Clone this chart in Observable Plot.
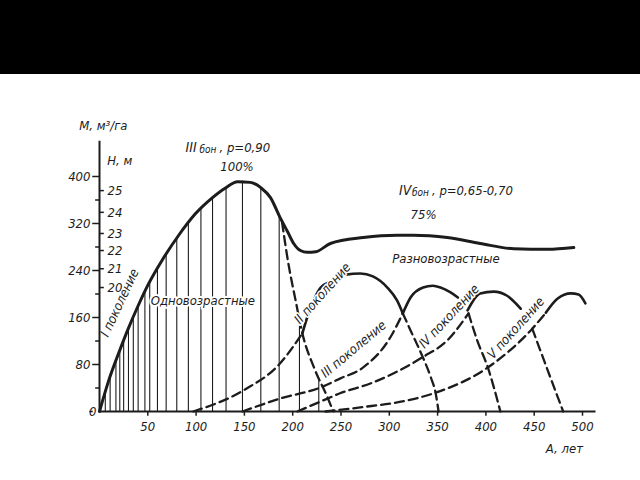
<!DOCTYPE html>
<html>
<head>
<meta charset="utf-8">
<script src="https://cdn.jsdelivr.net/npm/d3@7"></script>
<script src="https://cdn.jsdelivr.net/npm/@observablehq/plot@0.6"></script>
<style>
  html, body { margin: 0; padding: 0; background: #ffffff; }
  #band { height: 74px; background: #000; }
  #chart svg { display: block; background: #ffffff; }
</style>
</head>
<body>
<div id="band"></div>
<div id="chart"></div>
<script>
// ---- data (age A, years; stock M, m3/ha) ----
const xTicks = [50, 100, 150, 200, 250, 300, 350, 400, 450, 500];
const mTicks = [80, 160, 240, 320, 400];
const mMinor = [40, 120, 200, 280, 360];
const hLabels = ["20", "21", "22", "23", "24", "25"];
const hAtM = [211, 243, 274, 303, 339, 376];

// one-age stand (I generation) and uneven-aged continuation
const mainAge = [0, 9, 20, 30, 40, 51, 65, 82, 99, 117, 130, 143, 156, 167, 177, 187, 195, 201, 208, 215, 224, 239, 273, 308, 325, 360, 394, 429, 464, 491];
const mainVol = [0, 50, 100, 142, 180, 218, 258, 300, 336, 364, 380, 391, 390, 381, 364, 330, 305, 286, 274, 271, 272, 286, 296, 300, 300, 296, 286, 277, 276, 279];
const g1DescAge = [189, 195, 203, 210, 222, 236, 242];
const g1DescVol = [322, 257, 189, 133, 75, 24, 0];

const g2RiseAge = [97, 149, 187, 210];
const g2RiseVol = [0, 36, 82, 133];
const g2SolidAge = [210, 215, 229, 239, 255, 270, 283, 298, 308, 314];
const g2SolidVol = [133, 160, 211, 221, 233, 235, 230, 211, 189, 167];
const g2DescAge = [314, 322, 334, 343, 348, 351];
const g2DescVol = [167, 138, 95, 58, 31, 0];

const g3RiseAge = [148, 187, 229, 249, 273, 301, 314];
const g3RiseVol = [0, 22, 41, 56, 75, 126, 167];
const g3SolidAge = [314, 322, 335, 345, 353, 363, 371];
const g3SolidVol = [167, 194, 211, 214, 211, 203, 194];
const g3DescAge = [382, 391, 402, 415];
const g3DescVol = [167, 121, 75, 0];

const g4RiseAge = [205, 236, 249, 281, 334, 360, 382];
const g4RiseVol = [0, 22, 31, 48, 92, 121, 167];
const g4SolidAge = [381, 394, 408, 422, 436];
const g4SolidVol = [172, 201, 204, 197, 175];
const g4DescAge = [448, 464, 480];
const g4DescVol = [141, 70, 0];

const g5RiseAge = [234, 270, 319, 348, 402, 448, 462];
const g5RiseVol = [0, 7, 19, 32, 75, 141, 168];
const g5SolidAge = [462, 474, 488, 496, 503];
const g5SolidVol = [168, 192, 201, 199, 184];

// vertical hatching of the one-age stand
const hatchAge = [6, 11, 17, 21, 25, 30, 35, 40, 47, 52, 60, 69, 80, 92, 105, 117, 131, 148, 167, 186, 207, 227];
const hatchTop = [33, 60, 86, 104, 122, 142, 161, 180, 205, 221, 244, 268, 295, 322, 346, 364, 381, 392, 381, 334, 146, 52];

// ---- helpers ----
const pts = (a, m) => a.map((v, i) => ({a: v, m: m[i]}));
const INK = "#1c1c1c";
const FONT = "'DejaVu Sans Condensed', 'DejaVu Sans', sans-serif";
const dash = "9,5";
const CURVE = "monotone-x";
const solid = (a, m, w = 2.6) => Plot.line(pts(a, m), {x: "a", y: "m", curve: CURVE, stroke: INK, strokeWidth: w});
const dashed = (a, m) => Plot.line(pts(a, m), {x: "a", y: "m", curve: CURVE, stroke: INK, strokeWidth: 2.3, strokeDasharray: dash});
const label = (txt, a, m, opts = {}) => Plot.text([txt], {x: () => a, y: () => m, text: d => d, fill: INK, fontFamily: FONT, fontStyle: "italic", fontSize: 13, ...opts});

const hatch = hatchAge.map((a, i) => ({a, top: hatchTop[i]}));

const chart = Plot.plot({
  width: 640,
  height: 406,
  marginLeft: 99,
  marginRight: 58,
  marginTop: 102,
  marginBottom: 69,
  x: {domain: [0, 500], axis: null},
  y: {domain: [0, 400], axis: null},
  style: {background: "#ffffff", overflow: "visible"},
  marks: [
    // hatching
    Plot.ruleX(hatch, {x: "a", y1: 0, y2: "top", stroke: INK, strokeWidth: 1.1}),
    // axes
    Plot.ruleX([0], {y1: 0, y2: 460, stroke: INK, strokeWidth: 2}),
    Plot.ruleY([0], {x1: 0, x2: 514, stroke: INK, strokeWidth: 2}),
    Plot.ruleX(xTicks, {x: d => d, y1: 0, y2: -8, stroke: INK, strokeWidth: 1.5}),
    Plot.text(xTicks, {x: d => d, y: 0, dy: 15, text: d => String(d), fill: INK, fontFamily: FONT, fontStyle: "italic", fontSize: 13}),
    Plot.ruleY(mTicks, {y: d => d, x1: 0, x2: -7, stroke: INK, strokeWidth: 1.5}),
    Plot.ruleY(mMinor, {y: d => d, x1: 0, x2: -4, stroke: INK, strokeWidth: 1.5}),
    Plot.text(mTicks, {x: 0, y: d => d, dx: -9, text: d => String(d), textAnchor: "end", fill: INK, fontFamily: FONT, fontStyle: "italic", fontSize: 13}),
    Plot.text(["0"], {x: 0, y: 0, dx: -3, text: d => d, textAnchor: "end", fill: INK, fontFamily: FONT, fontStyle: "italic", fontSize: 13}),
    Plot.ruleY([0], {x1: -10, x2: -6.5, stroke: INK, strokeWidth: 1.5}),
    Plot.ruleY(hAtM, {y: d => d, x1: 0, x2: 5, stroke: INK, strokeWidth: 1.5}),
    Plot.text(hLabels, {x: 0, y: (d, i) => hAtM[i], dx: 8, text: d => d, textAnchor: "start", fill: INK, fontFamily: FONT, fontStyle: "italic", fontSize: 13}),
    // curves
    solid(mainAge, mainVol, 3),
    dashed(g1DescAge, g1DescVol),
    dashed(g2RiseAge, g2RiseVol),
    solid(g2SolidAge, g2SolidVol),
    dashed(g2DescAge, g2DescVol),
    dashed(g3RiseAge, g3RiseVol),
    solid(g3SolidAge, g3SolidVol),
    dashed(g3DescAge, g3DescVol),
    dashed(g4RiseAge, g4RiseVol),
    solid(g4SolidAge, g4SolidVol),
    dashed(g4DescAge, g4DescVol),
    dashed(g5RiseAge, g5RiseVol),
    solid(g5SolidAge, g5SolidVol),
    // annotations
    label("M, м³/га", -21, 487, {textAnchor: "start"}),
    label("H, м", 8, 427, {textAnchor: "start"}),
    label("III", 89, 449, {textAnchor: "start", fontSize: 14}),
    label("бон", 89, 449, {textAnchor: "start", fontSize: 10, dx: 14, dy: 2}),
    label(", p=0,90", 89, 449, {textAnchor: "start", dx: 34}),
    label("100%", 125, 417, {textAnchor: "start"}),
    label("IV", 310, 376, {textAnchor: "start", fontSize: 14}),
    label("бон", 310, 376, {textAnchor: "start", fontSize: 10, dx: 13, dy: 2}),
    label(", p=0,65-0,70", 310, 376, {textAnchor: "start", dx: 33}),
    label("75%", 322, 334, {textAnchor: "start"}),
    label("Разновозрастные", 303, 260, {textAnchor: "start", stroke: "#fff", strokeWidth: 3}),
    label("Одновозрастные", 53, 189, {textAnchor: "start", stroke: "#fff", strokeWidth: 4}),
    label("I поколение", 21, 185, {rotate: -65}),
    label("II поколение", 231, 201, {rotate: -48, stroke: "#fff", strokeWidth: 3}),
    label("III поколение", 263, 106, {rotate: -40, stroke: "#fff", strokeWidth: 3}),
    label("IV поколение", 362, 162, {rotate: -47, stroke: "#fff", strokeWidth: 3}),
    label("V поколение", 431, 142, {rotate: -48, stroke: "#fff", strokeWidth: 3}),
    label("A, лет", 462, -63, {textAnchor: "start"})
  ]
});
document.getElementById("chart").appendChild(chart);
</script>
</body>
</html>
